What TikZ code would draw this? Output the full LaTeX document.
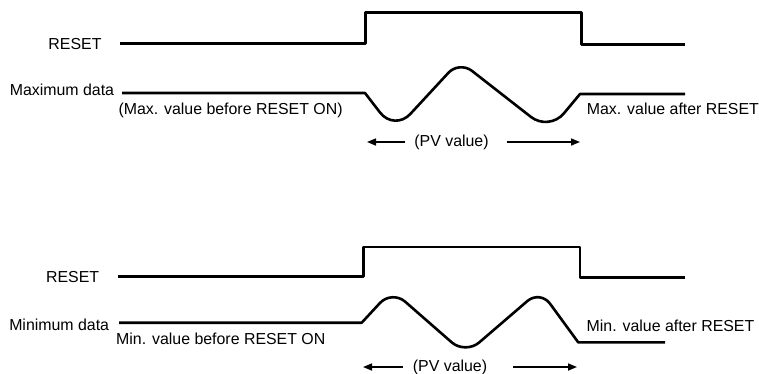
\documentclass[tikz,border=0pt]{standalone}
\usepackage{fontspec}
\setmainfont{Liberation Sans}
\usetikzlibrary{calc,arrows.meta}
\tikzset{
  sig/.style={line width=2.6pt, line join=round},
  lbl/.style={inner sep=0pt, font=\fontsize{15.9pt}{19pt}\selectfont},
  pvarrow/.style={line width=1.6pt, -{Triangle[length=9pt,width=7pt]}},
  rc/.style n args={4}{insert path={-- ($(#2)!#4!(#1)$) .. controls ($(#2)!0.4477*#4!(#1)$) and ($(#2)!0.4477*#4!(#3)$) .. ($(#2)!#4!(#3)$)}},
}
\begin{document}
\begin{tikzpicture}[x=1pt,y=-1pt]
\useasboundingbox (0,0) rectangle (759,373);

% ---------- top: maximum ----------
\node[lbl, anchor=base east] (reset1) at (101.7,49) {RESET};
\coordinate (a0) at (120,43.3);
\coordinate (a1) at (365.7,43.3);
\coordinate (a2) at (365.7,12.3);
\coordinate (a3) at (581.5,12.3);
\coordinate (a4) at (581.5,44.3);
\coordinate (a5) at (685,44.3);
\draw[sig] (a0) -- (a1) -- (a2) -- (a3) -- (a4) -- (a5);

\node[lbl, anchor=base east] (maxlbl) at (114.3,95) {Maximum data};
\coordinate (m0) at (122,93);
\coordinate (m1) at (365,93);
\coordinate (m2) at (394.4,131.2);
\coordinate (m3) at (459.3,61);
\coordinate (m4) at (549.1,131.1);
\coordinate (m5) at (580,94);
\coordinate (m6) at (685,94);
\draw[sig] (m0) -- (m1) [rc={m1}{m2}{m3}{23.6pt}] [rc={m2}{m3}{m4}{16pt}] [rc={m3}{m4}{m5}{23pt}] -- (m5) -- (m6);

\node[lbl, anchor=base west] (maxbefore) at (118.3,114.5) {(Max. value before RESET ON)};
\node[lbl, anchor=base west] (maxafter) at (586.7,114.5) {Max. value after RESET};

\node[lbl] (pv1) at (451.5,142) {(PV value)};
\coordinate (p1a) at (405,142);
\coordinate (p1b) at (367,142);
\coordinate (p1c) at (507,142);
\coordinate (p1d) at (580,142);
\draw[pvarrow] (p1a) -- (p1b);
\draw[pvarrow] (p1c) -- (p1d);

% ---------- bottom: minimum ----------
\node[lbl, anchor=base east] (reset2) at (99.3,282.3) {RESET};
\coordinate (b0) at (118.3,276.3);
\coordinate (b1) at (363.3,276.3);
\coordinate (b2) at (363.3,247);
\coordinate (b3) at (580,247);
\coordinate (b4) at (580,277.3);
\coordinate (b5) at (685,277.3);
\draw[sig] (b0) -- (b1) -- (b2) -- (b3) -- (b4) -- (b5);

\node[lbl, anchor=base east] (minlbl) at (109.3,330) {Minimum data};
\coordinate (n0) at (119,322.7);
\coordinate (n1) at (361.7,322.7);
\coordinate (n2) at (391.9,290.1);
\coordinate (n3) at (465.4,354.3);
\coordinate (n4) at (540.1,290.1);
\coordinate (n5) at (578.2,342.3);
\coordinate (n6) at (665,342.3);
\draw[sig] (n0) -- (n1) [rc={n1}{n2}{n3}{17.6pt}] [rc={n2}{n3}{n4}{18.2pt}] [rc={n3}{n4}{n5}{16.8pt}] -- (n5) -- (n6);

\node[lbl, anchor=base west] (minbefore) at (116,344) {Min. value before RESET ON};
\node[lbl, anchor=base west] (minafter) at (586.5,331.5) {Min. value after RESET};

\node[lbl] (pv2) at (450,367) {(PV value)};
\coordinate (p2a) at (403,367);
\coordinate (p2b) at (363,367);
\coordinate (p2c) at (513,367);
\coordinate (p2d) at (577,367);
\draw[pvarrow] (p2a) -- (p2b);
\draw[pvarrow] (p2c) -- (p2d);
\end{tikzpicture}
\end{document}
